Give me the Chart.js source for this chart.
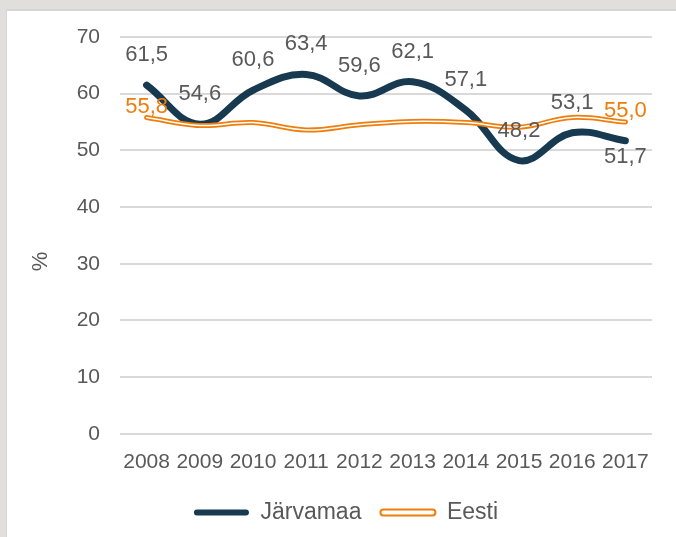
<!DOCTYPE html>
<html>
<head>
<meta charset="utf-8">
<script src="https://cdn.jsdelivr.net/npm/chart.js@4"></script>
<style>
  html, body { margin: 0; padding: 0; width: 676px; height: 537px; overflow: hidden; background: #e0dfdb; }
  #panel { position: absolute; left: 6px; top: 9px; right: -10px; bottom: -10px; background: #fff; border-top: 2px solid #d6d6d6; border-left: 1px solid #d6d6d6; }
  #wrap { position: absolute; left: 0; top: 0; width: 676px; height: 537px; }
</style>
</head>
<body>
<div id="panel"></div>
<div id="wrap"><canvas id="chart" width="676" height="537"></canvas></div>
<script>
// --- data ---
const years = ['2008', '2009', '2010', '2011', '2012', '2013', '2014', '2015', '2016', '2017'];
const jarvamaa = [61.5, 54.6, 60.6, 63.4, 59.6, 62.1, 57.1, 48.2, 53.1, 51.7];
const eesti = [55.8, 54.4, 54.9, 53.6, 54.5, 55.1, 54.9, 54.1, 55.8, 55.0];
const yTicks = [0, 10, 20, 30, 40, 50, 60, 70];

// which points get a value label and where
const jarvamaaLabelPos = ['above', 'above', 'above', 'above', 'above', 'above', 'above', 'above', 'above', 'below'];
const eestiLabelShow = [true, false, false, false, false, false, false, false, false, true];

const NAVY = '#173a51';
const ORANGE = '#ee7d0b';
const GREY_TEXT = '#595959';
const FONT = "'Liberation Sans', Arial, sans-serif";

const fmt = v => v.toFixed(1).replace('.', ',');

// value labels, drawn after the lines
const valueLabels = {
  id: 'valueLabels',
  afterDatasetsDraw(chart) {
    const ctx = chart.ctx;
    ctx.save();
    ctx.font = '22px ' + FONT;
    ctx.textAlign = 'center';
    ctx.textBaseline = 'middle';

    const m0 = chart.getDatasetMeta(0);
    ctx.fillStyle = GREY_TEXT;
    m0.data.forEach((pt, i) => {
      const dy = jarvamaaLabelPos[i] === 'below' ? 16 : -30;
      ctx.fillText(fmt(jarvamaa[i]), pt.x, pt.y + dy);
    });

    const m1 = chart.getDatasetMeta(1);
    ctx.fillStyle = ORANGE;
    m1.data.forEach((pt, i) => {
      if (!eestiLabelShow[i]) return;
      ctx.fillText(fmt(eesti[i]), pt.x, pt.y - 11);
    });
    ctx.restore();
  }
};

// "%" axis title
const yTitle = {
  id: 'yTitle',
  afterDraw(chart) {
    const ctx = chart.ctx;
    const a = chart.chartArea;
    ctx.save();
    ctx.font = '22px ' + FONT;
    ctx.fillStyle = GREY_TEXT;
    ctx.textAlign = 'center';
    ctx.textBaseline = 'middle';
    ctx.translate(41, (a.top + a.bottom) / 2 + 26);
    ctx.rotate(-Math.PI / 2);
    ctx.fillText('%', 0, 0);
    ctx.restore();
  }
};

const ctx = document.getElementById('chart').getContext('2d');
new Chart(ctx, {
  type: 'line',
  data: {
    labels: years,
    datasets: [
      {
        label: 'Järvamaa',
        data: jarvamaa,
        borderColor: NAVY,
        backgroundColor: NAVY,
        borderWidth: 7,
        borderCapStyle: 'round',
        tension: 0.4,
        pointRadius: 0,
        order: 3
      },
      {
        label: 'Eesti',
        data: eesti,
        borderColor: ORANGE,
        backgroundColor: '#fff',
        borderWidth: 5,
        borderCapStyle: 'round',
        tension: 0.4,
        pointRadius: 0,
        order: 2
      },
      {
        label: '_inner',
        data: eesti,
        borderColor: '#fff',
        borderWidth: 1.5,
        borderCapStyle: 'round',
        tension: 0.4,
        pointRadius: 0,
        order: 1
      }
    ]
  },
  options: {
    responsive: false,
    animation: false,
    layout: { padding: { left: 40, right: 24, top: 37, bottom: 3 } },
    plugins: {
      tooltip: { enabled: false },
      legend: {
        position: 'bottom',
        labels: {
          font: { family: FONT, size: 23 },
          color: GREY_TEXT,
          boxWidth: 55,
          boxHeight: 6,
          padding: 19,
          generateLabels: chart => [
            { text: 'Järvamaa', fillStyle: NAVY, strokeStyle: NAVY, lineWidth: 0, borderRadius: 3, datasetIndex: 0, fontColor: GREY_TEXT },
            { text: 'Eesti', fillStyle: '#fff', strokeStyle: ORANGE, lineWidth: 2, borderRadius: 3, datasetIndex: 1, fontColor: GREY_TEXT }
          ]
        }
      }
    },
    scales: {
      x: {
        offset: true,
        grid: { display: false, drawTicks: false },
        border: { display: false },
        afterFit: s => { s.height -= 9; },
        ticks: {
          autoSkip: false,
          maxRotation: 0,
          padding: 16,
          color: GREY_TEXT,
          font: { family: FONT, size: 21 }
        }
      },
      y: {
        min: 0,
        max: 70,
        afterBuildTicks: s => { s.ticks = yTicks.map(v => ({ value: v })); },
        afterFit: s => { s.width = 80; },
        grid: { color: '#d9d9d9', lineWidth: 2, drawTicks: false },
        border: { display: false },
        ticks: {
          padding: 20,
          color: GREY_TEXT,
          font: { family: FONT, size: 21 }
        }
      }
    }
  },
  plugins: [valueLabels, yTitle]
});
</script>
</body>
</html>
